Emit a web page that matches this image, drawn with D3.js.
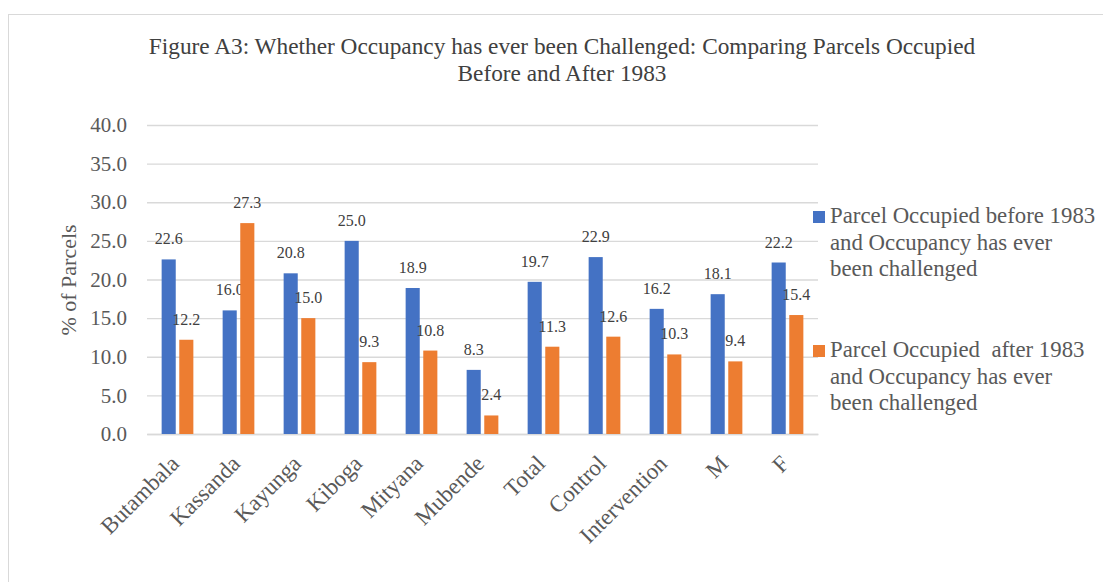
<!DOCTYPE html>
<html>
<head>
<meta charset="utf-8">
<script src="https://cdn.jsdelivr.net/npm/d3@7"></script>
<style>
  body { margin: 0; background: #fff; }
  text { font-family: "Liberation Serif", "Times New Roman", serif; white-space: pre; }
</style>
</head>
<body>
<div id="chart"></div>
<script>
// Data
let categories = ['Butambala', 'Kassanda', 'Kayunga', 'Kiboga', 'Mityana', 'Mubende',
                  'Total', 'Control', 'Intervention', 'M', 'F'];
let beforeValues = [22.6, 16.0, 20.8, 25.0, 18.9, 8.3, 19.7, 22.9, 16.2, 18.1, 22.2];
let afterValues = [12.2, 27.3, 15.0, 9.3, 10.8, 2.4, 11.3, 12.6, 10.3, 9.4, 15.4];
let seriesNames = [
    ['Parcel Occupied before 1983', 'and Occupancy has ever', 'been challenged'],
    ['Parcel Occupied  after 1983', 'and Occupancy has ever', 'been challenged']
];
let yTicks = [0, 5, 10, 15, 20, 25, 30, 35, 40];
let titleLines = ['Figure A3: Whether Occupancy has ever been Challenged: Comparing Parcels Occupied',
                  'Before and After 1983'];

let colors = ['#4472C4', '#ED7D31'];

// Chart dimensions
let dim = {
    'width': 1103,
    'height': 582
}
let plot = { left: 147, right: 818, top: 125, bottom: 434 };

let svg = d3.select('#chart')
    .append('svg')
    .attr('width', dim.width)
    .attr('height', dim.height);

// chart area border
svg.append('rect')
    .attr('x', 8.5).attr('y', 14.5)
    .attr('width', dim.width).attr('height', dim.height)
    .attr('fill', 'none')
    .attr('stroke', '#d9d9d9');

// title
svg.append('g')
    .selectAll('text')
    .data(titleLines)
    .join('text')
    .attr('x', 562)
    .attr('y', (d, i) => 54 + i * 26.5)
    .attr('text-anchor', 'middle')
    .attr('font-size', 23.3)
    .attr('fill', '#404040')
    .text(d => d);

// Scales
let x = d3.scaleBand()
    .domain(categories)
    .range([plot.left, plot.right])
    .paddingInner(0.48)
    .paddingOuter(0.24);

let xInner = d3.scaleBand()
    .domain([0, 1])
    .range([0, x.bandwidth()])
    .paddingInner(0.2);

let y = d3.scaleLinear()
    .domain([0, 40])
    .range([plot.bottom, plot.top]);

// gridlines + y labels
let yAxis = svg.append('g')
    .attr('transform', `translate(${plot.left}, 0)`)
    .call(d3.axisLeft(y)
        .tickValues(yTicks)
        .tickFormat(d3.format('.1f'))
        .tickSize(-(plot.right - plot.left))
        .tickPadding(20));
yAxis.select('.domain').remove();
yAxis.selectAll('.tick line').attr('stroke', '#d9d9d9').attr('stroke-width', 1.3);
yAxis.selectAll('.tick text')
    .attr('font-family', '"Liberation Serif", serif')
    .attr('font-size', 21)
    .attr('fill', '#595959');

// y axis title
svg.append('text')
    .attr('transform', 'translate(76, 280) rotate(-90)')
    .attr('text-anchor', 'middle')
    .attr('font-size', 22)
    .attr('fill', '#595959')
    .text('% of Parcels');

// x labels
let xAxis = svg.append('g')
    .attr('transform', `translate(0, ${plot.bottom})`)
    .call(d3.axisBottom(x).tickSize(0).tickPadding(0));
xAxis.select('.domain').attr('stroke', '#d9d9d9').attr('stroke-width', 1.3);
xAxis.selectAll('.tick text')
    .attr('font-family', '"Liberation Serif", serif')
    .attr('font-size', 23)
    .attr('fill', '#595959')
    .attr('text-anchor', 'end')
    .attr('dy', 0)
    .attr('transform', 'translate(3, 31) rotate(-45)');

// bars
let series = [beforeValues, afterValues];
let groups = svg.append('g')
    .selectAll('g')
    .data(series)
    .join('g')
    .attr('fill', (d, i) => colors[i]);

groups.each(function(values, s) {
    let g = d3.select(this);
    g.selectAll('rect')
        .data(values)
        .join('rect')
        .attr('x', (d, i) => x(categories[i]) + xInner(s))
        .attr('y', d => y(d))
        .attr('width', xInner.bandwidth())
        .attr('height', d => y(0) - y(d));

    g.selectAll('text')
        .data(values)
        .join('text')
        .attr('x', (d, i) => x(categories[i]) + xInner(s) + xInner.bandwidth() / 2)
        .attr('y', d => y(d) - 15)
        .attr('text-anchor', 'middle')
        .attr('font-size', 16)
        .attr('fill', '#404040')
        .text(d => d3.format('.1f')(d));
});

// legend
let legend = svg.append('g')
    .selectAll('g')
    .data(seriesNames)
    .join('g')
    .attr('transform', (d, i) => `translate(813, ${211 + i * 134})`);

legend.append('rect')
    .attr('width', 12)
    .attr('height', 12)
    .attr('fill', (d, i) => colors[i]);

legend.selectAll('text')
    .data(d => d)
    .join('text')
    .attr('x', 17)
    .attr('y', (d, i) => 12 + i * 26.5)
    .attr('font-size', 22.8)
    .attr('fill', '#595959')
    .text(d => d);
</script>
</body>
</html>
